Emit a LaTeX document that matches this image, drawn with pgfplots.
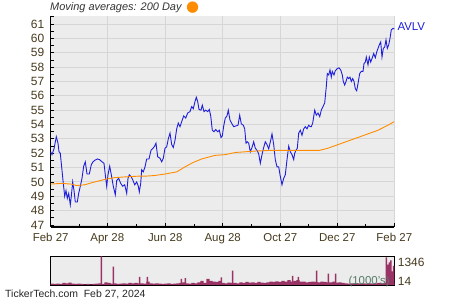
\documentclass[border=0pt]{standalone}
\usepackage{fontspec}
\setmainfont{Liberation Sans}
\newfontfamily\dejavu{DejaVu Sans}
\usepackage{pgfplots}
\pgfplotsset{compat=1.18}
\definecolor{bgc}{HTML}{ECECEC}
\definecolor{gridc}{HTML}{D6D6D6}
\definecolor{txtc}{HTML}{463A1E}
\definecolor{pricec}{HTML}{1E1EDC}
\definecolor{mac}{HTML}{FF8C00}
\definecolor{volc}{HTML}{993366}
\definecolor{voltxt}{HTML}{557A66}
\begin{document}
\begin{tikzpicture}
\path[use as bounding box] (0,0) rectangle (450bp,300bp);
\begin{axis}[at={(50.7bp,73bp)}, anchor=south west, scale only axis,
  width=343.6bp, height=211bp,
  xmin=50.7, xmax=394.3, ymin=46.86, ymax=61.56,
  axis x line*=bottom, axis y line*=left,
  axis line style={-, black, line width=1.1bp},
  axis background/.style={fill=bgc},
  xtick={50.7,107.3,165.2,222.7,280.3,337.3,394.3},
  xticklabels={Feb 27, Apr 28, Jun 28, Aug 28, Oct 27, Dec 27, Feb 27},
  minor xtick={79,136.2,194,251.5,308.8,365.8},
  ytick={47,48,...,61},
  minor ytick={46.5,47.5,...,61.5},
  tick align=inside,
  major tick length=3.5bp, minor tick length=3bp,
  tick style={black, line width=0.8bp},
  grid=major, major grid style={gridc, line width=0.9bp},
  /pgf/number format/assume math mode=true,
  ticklabel style={font=\fontsize{11.5}{13}\selectfont, text=txtc},
  yticklabel style={font=\fontsize{12}{13}\selectfont, xshift=-3bp},
  xticklabel style={yshift=-3bp},
  clip=false]
\addplot[pricec, line width=0.9bp] coordinates {
(50.7,52.1) (52,51.9) (54,52.3) (56.3,53.15) (58,52.7) (59,52.1) (60.3,52.0) (62,50.8) (63,50.1) (64.7,49.0) (66,49.4) (67.3,48.85) (68.7,49.2) (70.3,48.4) (71.3,49.0) (72.7,50.0) (74,49.4) (75.3,48.6) (77.3,48.6) (78.7,49.2) (80.3,49.7) (82,50.25) (83.7,51.1) (85.3,51.4) (87,50.55) (89.3,50.55) (91.3,51.2) (93,51.4) (94.7,51.5) (97.3,51.6) (99.7,51.55) (102,51.4) (104,51.3) (105.3,50.5) (106.7,49.7) (108,50.5) (109.7,51.1) (111.3,50.5) (113.3,49.7) (115.3,49.1) (116.7,50.1) (118.7,50.25) (120.7,49.9) (122.7,49.7) (124.7,49.8) (126.7,49.2) (128,50.25) (129.3,50.5) (131.3,50.35) (133,50.1) (134.7,49.8)
(136.7,50.0) (138.3,49.7) (139.3,49.3) (140.7,49.9) (141.7,50.85) (143.3,50.7) (145,51.05) (146.7,51.6) (149,51.6) (151,52.2) (152.3,52.3) (154.3,52.45) (156,52.7) (157.7,51.75) (160,51.65) (161.7,51.4) (163.3,51.65) (165,52.35) (166.7,52.45) (168.3,53.0) (170,53.4) (171.7,52.6) (173.3,52.4) (175,52.9) (176.7,53.7) (178.3,54.1) (180,53.85) (181.7,54.2) (183.7,54.6) (185.7,54.45) (187.7,54.8) (190,54.9) (191.7,55.25) (193.3,55.1) (195,55.6) (196.3,55.9) (197.7,55.6) (199,55.05) (201,55.0) (202.3,55.35) (204,54.9) (205.7,55.0) (207.7,54.9) (209.3,55.05) (210.7,54.6) (212.3,53.6) (214,53.5) (215.7,53.65) (217.7,53.5) (219.3,53.6) (221,53.1)
(222.3,53.2) (223.7,53.9) (225.3,54.45) (227,54.6) (228.3,55.0) (230,54.3) (232,54.05) (233.7,53.85) (236,53.9) (238,53.95) (239.7,54.65) (241.3,54.05) (243.3,53.95) (244.7,53.7) (246,52.7) (247.3,52.8) (248.7,52.7) (250.3,52.1) (252,52.4) (253.7,52.8) (255.3,52.35) (257,52.2) (258.7,51.95) (260.3,51.3) (262,51.9) (263.7,52.4) (265.3,52.8) (267,52.6) (268.7,52.3) (270.7,52.9) (272,53.35) (273.7,52.6) (275.3,51.55) (277,51.05) (278.7,51.05) (280,50.5) (282,49.8) (283.7,50.25) (285.3,50.5) (287,51.55) (288.7,52.5) (290.3,52.1) (292,51.9) (293.7,51.55) (294.7,52.0) (296,52.2) (297.3,52.35) (298.7,53.4) (300.3,53.6) (302,53.25) (303.7,53.7) (305.3,53.85) (307,53.7) (308.7,53.95) (310.3,53.85) (311.3,53.85)
(312.7,54.1) (314.7,55.0) (316.3,54.65) (318,54.8) (319.7,54.55) (321.3,55.0) (323,55.25) (324.7,55.5) (326.3,56.65) (327.3,57.55) (328.7,57.45) (330,57.8) (331.3,57.3) (332.3,57.7) (334,57.45) (335.3,57.75) (337.3,57.9) (339,57.95) (340.7,57.8) (342.3,57.45) (343.3,57.0) (344.7,56.75) (346,57.0) (347.3,57.3) (348.7,57.2) (350,57.3) (351.3,57.0) (352.7,57.2) (354,57.0) (355.3,56.5) (356.7,56.35) (358,56.85) (359.7,57.55) (361.3,57.7) (363,57.7) (364,58.25) (365.3,58.35) (366.3,58.7) (368,58.15) (369.3,58.7) (370.7,58.35) (372.3,58.65) (373.7,58.95) (375.3,58.65) (376.7,59.05) (378,59.3) (379.3,59.55) (380.7,59.75) (382,58.7) (383.3,59.3) (384.7,59.4) (386,59.9) (387.3,59.3) (388.7,59.55) (390,60.0) (391.3,60.6) (393,60.7) (394.3,60.65)
};
\addplot[mac, line width=0.9bp] coordinates {
(50.7,49.85) (61.3,49.9) (71.3,49.85) (76.3,49.75) (84.7,49.8) (94.7,50.0) (106.3,50.2) (114.7,50.3) (125,50.35) (138,50.4) (145,50.4) (155,50.45) (165,50.55) (176.7,50.7) (185,51.05) (193,51.35) (201.7,51.6) (215,51.85) (225,51.9) (235.3,52.05) (255.3,52.15) (272,52.2) (298.7,52.2) (319.7,52.2) (328,52.35) (338,52.6) (348,52.85) (358,53.1) (368,53.35) (378,53.6) (388,53.95) (394,54.2)
};
\end{axis}
\begin{axis}[at={(50.7bp,15bp)}, anchor=south west, scale only axis,
  width=343.6bp, height=28.7bp,
  xmin=50.7, xmax=394.3, ymin=14, ymax=1346,
  axis background/.style={fill=bgc},
  xtick=\empty, ytick=\empty,
  axis line style={black, line width=1.2bp}]
\addplot[ybar, bar width=3.05bp, fill=volc, draw=none] coordinates {
(52,77) (55,62) (58,77) (61,62) (64,109) (67,93) (70,125) (73,77) (76,62) (79,77) (82,62) (85,46) (88,62) (91,46) (94,62) (97,77) (100,93) (103,62) (106,141) (109,109) (112,77) (115,93) (118,62) (121,77) (124,93) (127,77) (130,109) (133,93) (136,109) (139,93) (142,93) (145,77) (148,173) (151,93) (154,77) (157,93) (160,77) (163,62) (166,77) (169,93) (172,62) (175,77) (178,93) (181,109) (184,141) (187,93) (190,77) (193,109) (196,93) (199,141) (202,204) (205,109) (208,300) (211,204) (214,173) (217,157) (220,204)
(223,109) (226,93) (229,125) (232,109) (235,109) (238,93) (241,141) (244,109) (247,157) (250,125) (253,141) (256,109) (259,157) (262,125) (265,109) (268,141) (271,173) (274,157) (277,188) (280,157) (283,204) (286,173) (289,236) (292,173) (295,204) (298,236) (301,173) (304,173) (307,141) (310,157) (313,173) (316,157) (319,141) (322,173) (325,157) (328,141) (331,141) (334,173) (337,125) (340,141) (343,109) (346,93) (349,77) (352,93) (355,77) (358,93) (361,77) (364,93) (367,77) (370,93) (373,77) (376,93) (379,109) (382,93) (385,109) (388,93) (391,93) (393,93)
};
\addplot[ybar, bar width=1.5bp, fill=volc, draw=none] coordinates {
(101.3,1346) (113.3,870) (139.7,395) (147.3,395) (181.3,300) (185.3,330) (221.3,363) (232.7,680) (292.7,442) (298.3,395) (316.7,680) (328.3,537) (335.5,537) (386.3,1300) (387.8,965) (389.3,1060) (390.8,1155) (392.3,650) (393.6,900)
};
\end{axis}
\node[anchor=west, inner sep=0, text=voltxt, font=\fontsize{11.5}{13}\selectfont] at (348.3bp,18bp) {(1000's)};
\node[anchor=west, inner sep=0, text=txtc, font=\fontsize{12}{13}\selectfont] at (397.7bp,37.3bp) {1346};
\node[anchor=west, inner sep=0, text=txtc, font=\fontsize{12}{13}\selectfont] at (397.7bp,18.3bp) {14};
\node[anchor=west, inner sep=0, text=pricec, font=\fontsize{11.5}{13}\selectfont] at (397.3bp,273.3bp) {AVLV};
\node[anchor=west, inner sep=0, text=black!80, font=\itshape\fontsize{11}{13}\selectfont] at (50bp,292bp) {Moving averages: 200 Day};
\node[anchor=west, inner sep=0, text=mac, font=\dejavu\fontsize{15}{15}\selectfont] at (186bp,292bp) {●};
\node[anchor=west, inner sep=0, text=black!85, font=\fontsize{10.5}{12}\selectfont] at (5bp,5.7bp) {TickerTech.com\ \ Feb 27, 2024};
\end{tikzpicture}
\end{document}
